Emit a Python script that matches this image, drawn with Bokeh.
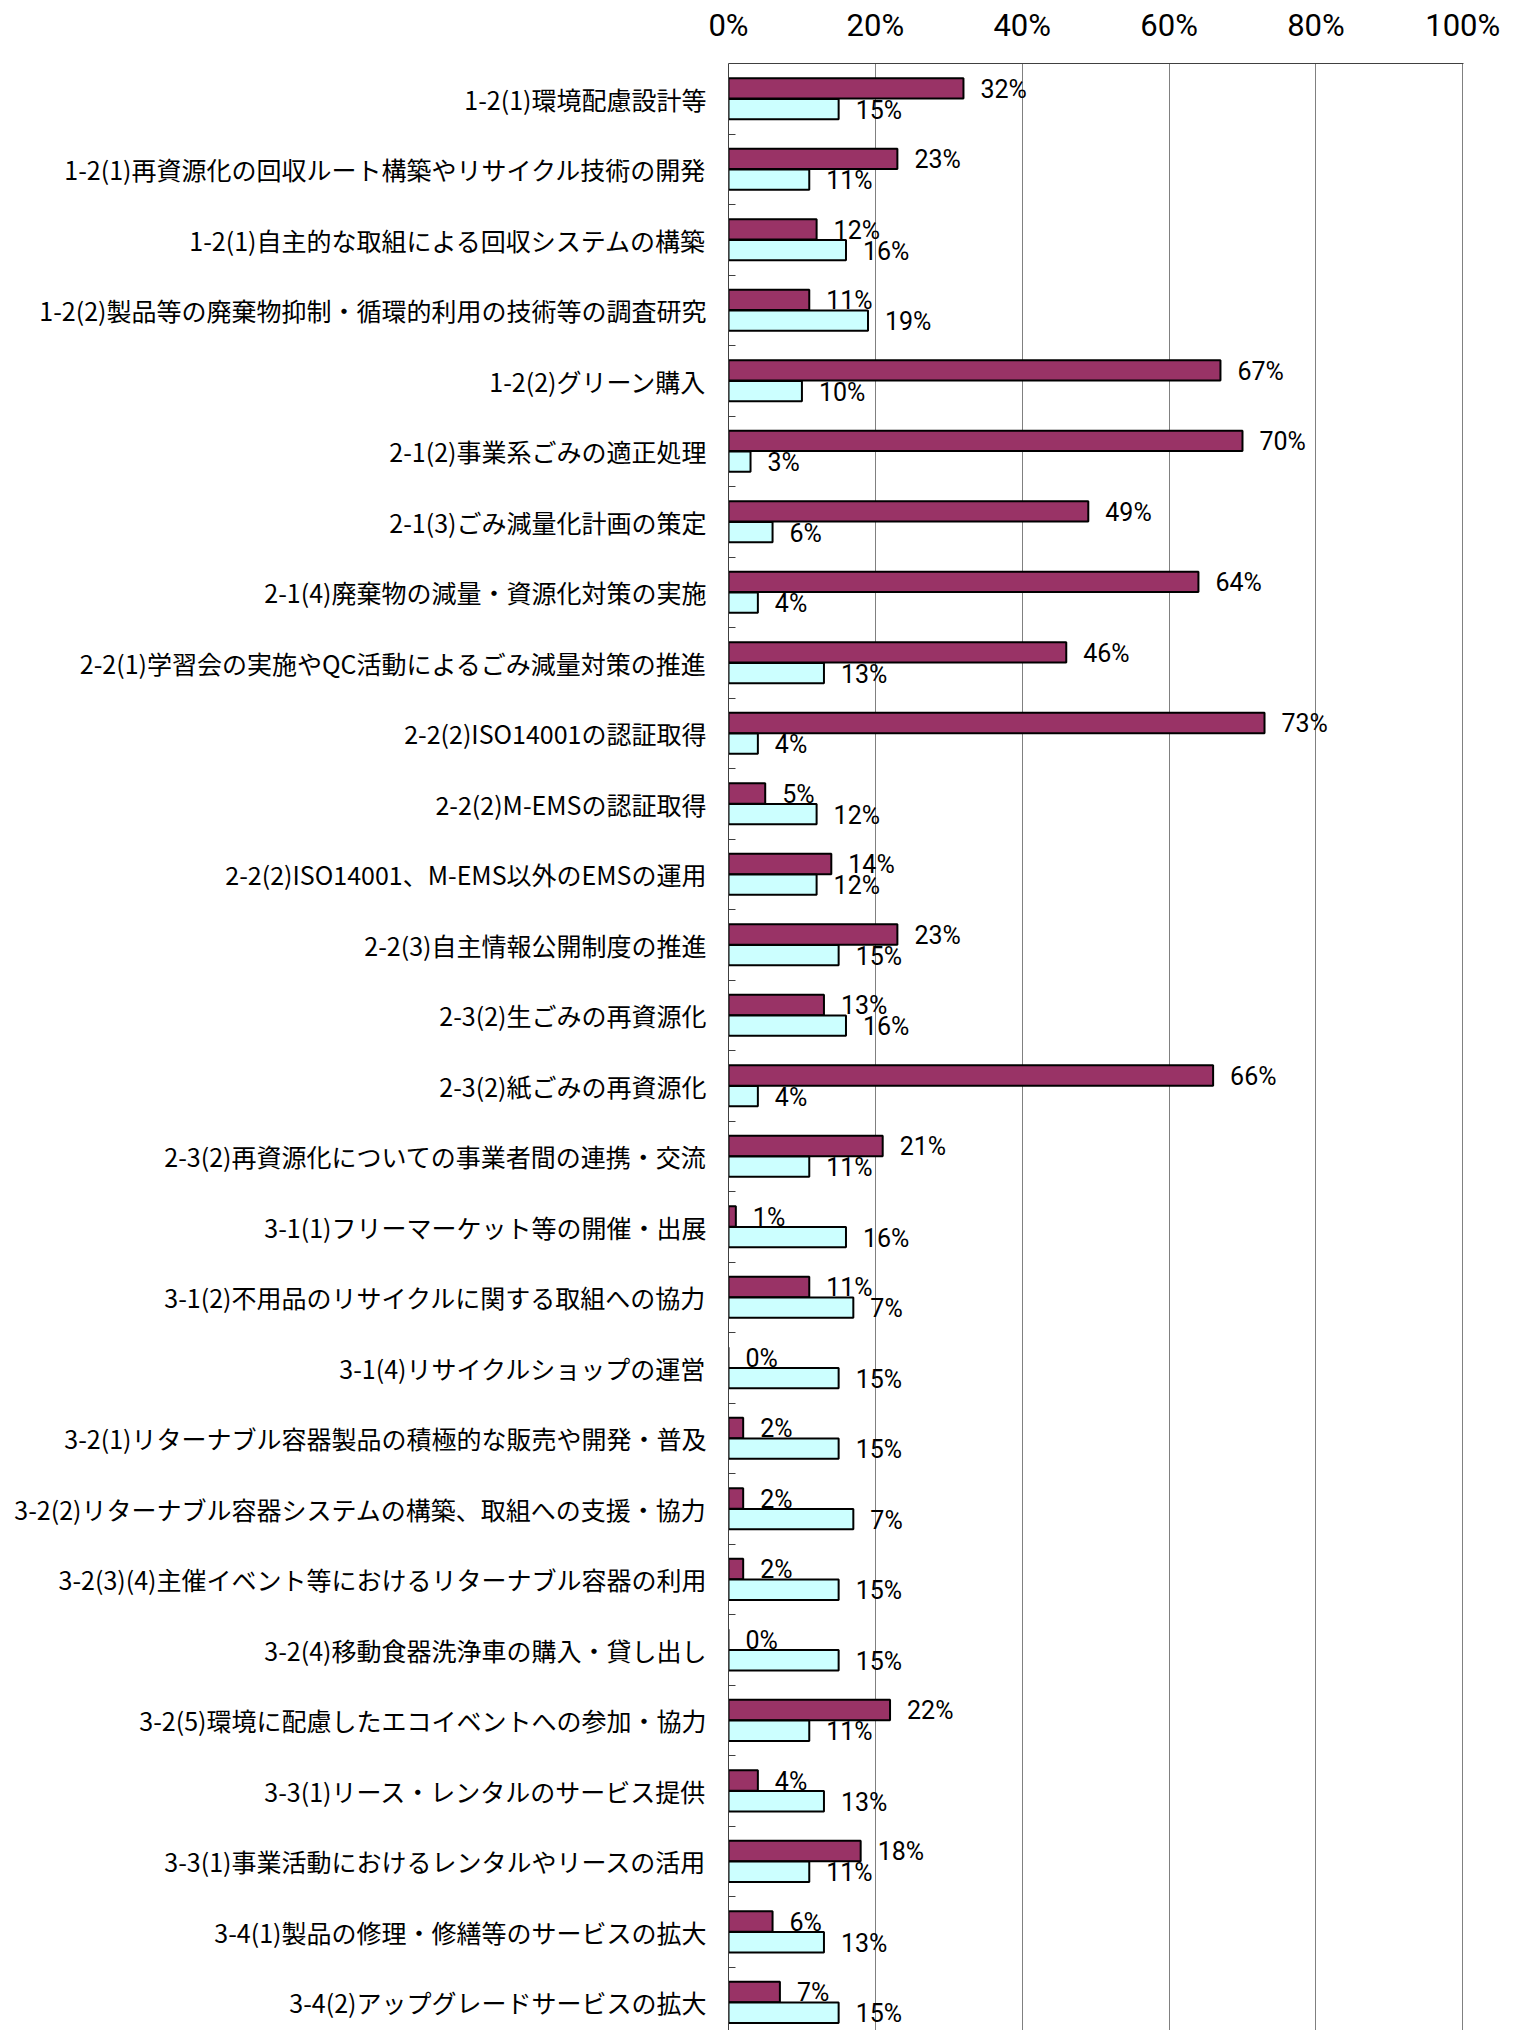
from bokeh.plotting import figure
from bokeh.models import Range1d, FixedTicker, PrintfTickFormatter, ColumnDataSource
from bokeh.transform import dodge
from bokeh.core.properties import value
from bokeh.embed import file_html
from bokeh.resources import INLINE

categories = [
    "1-2(1)環境配慮設計等",
    "1-2(1)再資源化の回収ルート構築やリサイクル技術の開発",
    "1-2(1)自主的な取組による回収システムの構築",
    "1-2(2)製品等の廃棄物抑制・循環的利用の技術等の調査研究",
    "1-2(2)グリーン購入",
    "2-1(2)事業系ごみの適正処理",
    "2-1(3)ごみ減量化計画の策定",
    "2-1(4)廃棄物の減量・資源化対策の実施",
    "2-2(1)学習会の実施やQC活動によるごみ減量対策の推進",
    "2-2(2)ISO14001の認証取得",
    "2-2(2)M-EMSの認証取得",
    "2-2(2)ISO14001、M-EMS以外のEMSの運用",
    "2-2(3)自主情報公開制度の推進",
    "2-3(2)生ごみの再資源化",
    "2-3(2)紙ごみの再資源化",
    "2-3(2)再資源化についての事業者間の連携・交流",
    "3-1(1)フリーマーケット等の開催・出展",
    "3-1(2)不用品のリサイクルに関する取組への協力",
    "3-1(4)リサイクルショップの運営",
    "3-2(1)リターナブル容器製品の積極的な販売や開発・普及",
    "3-2(2)リターナブル容器システムの構築、取組への支援・協力",
    "3-2(3)(4)主催イベント等におけるリターナブル容器の利用",
    "3-2(4)移動食器洗浄車の購入・貸し出し",
    "3-2(5)環境に配慮したエコイベントへの参加・協力",
    "3-3(1)リース・レンタルのサービス提供",
    "3-3(1)事業活動におけるレンタルやリースの活用",
    "3-4(1)製品の修理・修繕等のサービスの拡大",
    "3-4(2)アップグレードサービスの拡大",
]

series_a = [32, 23, 12, 11, 67, 70, 49, 64, 46, 73, 5, 14, 23, 13, 66, 21,
            1, 11, 0, 2, 2, 2, 0, 22, 4, 18, 6, 7]
series_b = [15, 11, 16, 19, 10, 3, 6, 4, 13, 4, 12, 12, 15, 16, 4, 11,
            16, 17, 15, 15, 17, 15, 15, 11, 13, 11, 13, 15]

labels_a = ["32%", "23%", "12%", "11%", "67%", "70%", "49%", "64%", "46%", "73%",
            "5%", "14%", "23%", "13%", "66%", "21%", "1%", "11%", "0%", "2%",
            "2%", "2%", "0%", "22%", "4%", "18%", "6%", "7%"]
labels_b = ["15%", "11%", "16%", "19%", "10%", "3%", "6%", "4%", "13%", "4%",
            "12%", "12%", "15%", "16%", "4%", "11%", "16%", "7%", "15%", "15%",
            "7%", "15%", "15%", "11%", "13%", "11%", "13%", "15%"]

x_ticks = [0, 20, 40, 60, 80, 100]

n = len(categories)
src = ColumnDataSource(dict(
    y=list(range(n)), cat=categories, a=series_a, b=series_b,
    la=labels_a, lb=labels_b,
))

p = figure(
    frame_width=735, frame_height=1967,
    x_range=Range1d(0, 100.1), y_range=Range1d(27.4, -0.5),
    output_backend="svg", toolbar_location=None,
    x_axis_location="above",
    min_border_left=728, min_border_right=44,
    min_border_top=63, min_border_bottom=0,
)
p.outline_line_color = None
p.background_fill_color = "white"

off = 0.147
bar_h = 0.29
p.hbar(y=dodge("y", -off), left=0, right="a", height=bar_h,
       fill_color="#993366", line_color="black", line_width=2, source=src)
p.hbar(y=dodge("y", off), left=0, right="b", height=bar_h,
       fill_color="#CCFFFF", line_color="black", line_width=2, source=src)

lab_font = value("Roboto")
p.text(x="a", y=dodge("y", -off), text="la", x_offset=17, y_offset=1,
       text_align="left", text_baseline="middle", text_font=lab_font,
       text_font_size="25px", text_color="black", source=src)
p.text(x="b", y=dodge("y", off), text="lb", x_offset=17, y_offset=1,
       text_align="left", text_baseline="middle", text_font=lab_font,
       text_font_size="25px", text_color="black", source=src)

# grid
p.xgrid.ticker = FixedTicker(ticks=x_ticks[1:])
p.xgrid.grid_line_color = "#808080"
p.xgrid.grid_line_width = 1
p.ygrid.visible = False

# top axis
xa = p.xaxis[0]
xa.ticker = FixedTicker(ticks=x_ticks)
xa.formatter = PrintfTickFormatter(format="%d%%")
xa.major_tick_in = 0
xa.major_tick_out = 0
xa.minor_tick_line_color = None
xa.axis_line_color = "#404040"
xa.major_label_standoff = 20
xa.major_label_text_font = "Roboto"
xa.major_label_text_font_size = "31px"
xa.major_label_text_color = "black"

# left axis
ya = p.yaxis[0]
ya.ticker = FixedTicker(ticks=list(range(n)), minor_ticks=[i + 0.5 for i in range(n)])
ya.major_label_overrides = {i: c for i, c in enumerate(categories)}
ya.major_tick_line_color = None
ya.major_tick_in = 0
ya.major_tick_out = 0
ya.minor_tick_in = 7
ya.minor_tick_out = 0
ya.minor_tick_line_color = "#404040"
ya.axis_line_color = "#404040"
ya.major_label_standoff = 22
ya.major_label_text_font = "Noto Sans CJK JP"
ya.major_label_text_font_size = "25px"
ya.major_label_text_color = "black"

open("out.html", "w", encoding="utf-8").write(file_html(p, INLINE))
